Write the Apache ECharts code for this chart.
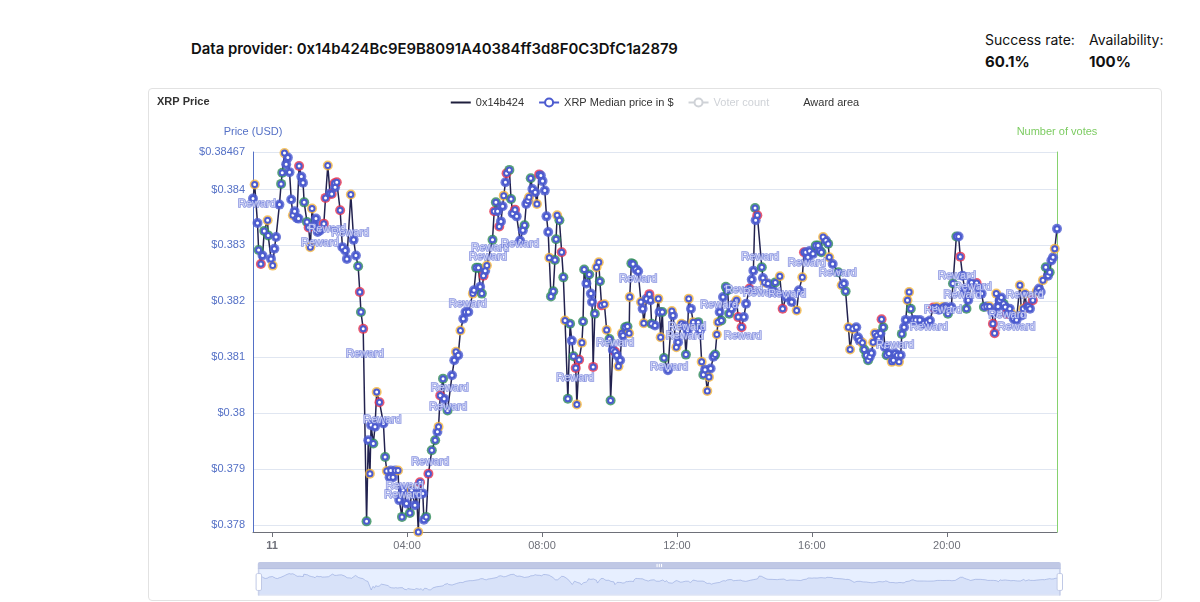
<!DOCTYPE html>
<html><head><meta charset="utf-8">
<script src="https://cdn.jsdelivr.net/npm/echarts@6/dist/echarts.min.js"></script>
<style>
html,body{margin:0;padding:0;background:#fff;width:1200px;height:602px;overflow:hidden;font-family:Inter,'Noto Sans',sans-serif;color:#111;}
.h{position:absolute;white-space:nowrap;font-size:14px;line-height:18px;}
.b{font-weight:600;}
#card{position:absolute;left:148px;top:88px;width:1014px;height:513px;box-sizing:border-box;border:1px solid #e2e2e2;border-radius:4px;}
#chart{position:absolute;left:0;top:0;width:1012px;height:511px;}
</style></head><body>
<div class="h b" style="left:191px;top:40px;font-size:14.9px;">Data provider: 0x14b424Bc9E9B8091A40384ff3d8F0C3DfC1a2879</div>
<div class="h" style="left:985px;top:31px;">Success rate:</div>
<div class="h b" style="left:985px;top:53px;font-size:15px;font-weight:700;">60.1%</div>
<div class="h" style="left:1089px;top:31px;">Availability:</div>
<div class="h b" style="left:1089px;top:53px;font-size:15px;font-weight:700;">100%</div>
<div id="card"><div id="chart"></div></div>
<script>
const times = [
"23:26","23:29","23:34","23:36","23:40","23:43","23:46","23:52","23:53","23:58",
"00:01","00:04","00:07","00:13","00:16","00:18","00:22","00:25","00:28","00:31",
"00:34","00:37","00:40","00:44","00:47","00:48","00:52","00:55","00:57","01:02",
"01:05","01:08","01:11","01:15","01:18","01:21","01:25","01:32","01:35","01:39",
"01:43","01:46","01:51","01:52","01:55","02:01","02:05","02:10","02:13","02:20",
"02:25","02:29","02:33","02:36","02:38","02:42","02:48","02:51","02:54","02:56",
"03:00","03:03","03:06","03:11","03:18","03:21","03:24","03:29","03:31","03:35",
"03:39","03:44","03:46","03:51","03:53","03:59","04:05","04:08","04:14","04:17",
"04:20","04:23","04:28","04:30","04:34","04:38","04:44","04:50","04:54","04:56",
"04:59","05:04","05:06","05:12","05:20","05:24","05:27","05:31","05:35","05:40",
"05:44","05:49","05:57","05:59","06:03","06:07","06:10","06:13","06:16","06:19",
"06:22","06:32","06:35","06:38","06:41","06:44","06:47","06:50","06:52","06:55",
"06:57","07:02","07:05","07:08","07:12","07:15","07:21","07:26","07:29","07:32",
"07:35","07:37","07:40","07:43","07:48","07:51","07:55","07:58","08:01","08:05",
"08:08","08:11","08:13","08:16","08:20","08:23","08:25","08:27","08:31","08:35",
"08:38","08:41","08:46","08:50","08:53","08:56","09:00","09:02","09:06","09:11",
"09:13","09:15","09:19","09:24","09:27","09:29","09:31","09:34","09:37","09:41",
"09:43","09:46","09:51","09:55","10:00","10:02","10:06","10:10","10:13","10:16",
"10:19","10:22","10:24","10:28","10:32","10:35","10:36","10:39","10:42","10:47",
"10:51","10:56","10:59","11:01","11:06","11:11","11:13","11:15","11:21","11:27",
"11:29","11:31","11:34","11:37","11:44","11:51","11:53","11:59","12:02","12:08",
"12:13","12:16","12:19","12:21","12:25","12:29","12:38","12:41","12:44","12:47",
"12:50","12:54","12:57","13:00","13:05","13:08","13:11","13:13","13:16","13:19",
"13:22","13:27","13:30","13:33","13:37","13:42","13:46","13:49","13:55","13:59",
"14:03","14:09","14:13","14:16","14:19","14:20","14:23","14:31","14:33","14:36",
"14:42","14:51","14:55","15:03","15:08","15:14","15:24","15:33","15:37","15:43",
"15:46","15:49","15:53","15:56","16:02","16:07","16:11","16:14","16:17","16:20",
"16:25","16:29","16:31","16:37","16:47","16:53","16:57","17:00","17:05","17:08",
"17:13","17:19","17:22","17:25","17:30","17:33","17:37","17:40","17:43","17:46",
"17:49","17:52","17:56","17:59","18:02","18:04","18:07","18:10","18:13","18:17",
"18:22","18:25","18:28","18:32","18:35","18:38","18:40","18:44","18:47","18:50",
"18:53","18:56","19:00","19:05","19:12","19:19","19:25","19:30","19:36","19:42",
"19:46","19:53","19:58","20:02","20:08","20:11","20:17","20:21","20:24","20:28",
"20:32","20:35","20:38","20:44","20:53","20:57","21:02","21:06","21:11","21:16",
"21:21","21:22","21:25","21:28","21:31","21:34","21:37","21:41","21:44","21:47",
"21:52","21:55","21:59","22:04","22:10","22:13","22:16","22:19","22:22","22:25",
"22:28","22:33","22:40","22:44","22:47","22:51","22:56","23:00","23:03","23:06",
"23:09","23:12","23:16"
];
const prices = [
0.38384,0.38409,0.38340,0.38292,0.38267,0.38282,0.38326,0.38345,0.38318,0.38276,
0.38264,0.38294,0.38315,0.38373,0.38410,0.38430,0.38465,0.38445,0.38457,0.38431,
0.38382,0.38354,0.38361,0.38349,0.38348,0.38442,0.38423,0.38412,0.38377,0.38342,
0.38332,0.38297,0.38366,0.38336,0.38348,0.38324,0.38327,0.38339,0.38385,0.38443,
0.38393,0.38392,0.38411,0.38404,0.38413,0.38363,0.38297,0.38291,0.38276,0.38391,
0.38310,0.38282,0.38263,0.38217,0.38181,0.38151,0.37807,0.37952,0.37892,0.37979,
0.37946,0.37976,0.38038,0.38020,0.37982,0.37922,0.37897,0.37886,0.37898,0.37886,
0.37898,0.37898,0.37845,0.37815,0.37863,0.37839,0.37822,0.37863,0.37836,0.37857,
0.37788,0.37877,0.37857,0.37810,0.37815,0.37892,0.37934,0.37952,0.37967,0.37976,
0.38032,0.38062,0.38026,0.38005,0.38068,0.38095,0.38110,0.38104,0.38148,0.38169,
0.38181,0.38181,0.38214,0.38220,0.38260,0.38260,0.38226,0.38214,0.38246,0.38255,
0.38264,0.38310,0.38361,0.38377,0.38361,0.38334,0.38343,0.38370,0.38389,0.38413,
0.38429,0.38435,0.38383,0.38357,0.38364,0.38352,0.38309,0.38327,0.38336,0.38374,
0.38380,0.38386,0.38420,0.38401,0.38395,0.38374,0.38427,0.38425,0.38415,0.38398,
0.38352,0.38324,0.38278,0.38209,0.38218,0.38274,0.38311,0.38354,0.38345,0.38288,
0.38243,0.38166,0.38026,0.38160,0.38130,0.38102,0.38081,0.38016,0.38096,0.38126,
0.38164,0.38257,0.38232,0.38248,0.38214,0.38199,0.38083,0.38178,0.38261,0.38270,
0.38236,0.38193,0.38195,0.38149,0.38133,0.38023,0.38113,0.38110,0.38104,0.38084,
0.38095,0.38143,0.38139,0.38154,0.38155,0.38143,0.38208,0.38268,0.38267,0.38258,
0.38254,0.38199,0.38187,0.38161,0.38205,0.38213,0.38202,0.38160,0.38157,0.38205,
0.38181,0.38136,0.38181,0.38099,0.38077,0.38183,0.38175,0.38118,0.38127,0.38160,
0.38157,0.38105,0.38148,0.38205,0.38187,0.38163,0.38163,0.38148,0.38092,0.38069,
0.38078,0.38040,0.38065,0.38080,0.38101,0.38105,0.38141,0.38163,0.38181,0.38166,
0.38208,0.38226,0.38220,0.38178,0.38187,0.38196,0.38202,0.38172,0.38154,0.38172,
0.38196,0.38223,0.38239,0.38255,0.38367,0.38345,0.38354,0.38261,0.38242,0.38234,
0.38232,0.38220,0.38234,0.38245,0.38187,0.38208,0.38199,0.38184,0.38220,0.38243,
0.38288,0.38288,0.38279,0.38290,0.38285,0.38300,0.38300,0.38291,0.38288,0.38315,
0.38309,0.38303,0.38279,0.38267,0.38252,0.38229,0.38232,0.38218,0.38154,0.38114,
0.38151,0.38154,0.38136,0.38130,0.38126,0.38114,0.38104,0.38095,0.38101,0.38108,
0.38127,0.38143,0.38139,0.38133,0.38143,0.38168,0.38154,0.38118,0.38104,0.38107,
0.38092,0.38095,0.38107,0.38104,0.38092,0.38104,0.38142,0.38154,0.38167,0.38202,
0.38217,0.38187,0.38167,0.38167,0.38167,0.38161,0.38163,0.38166,0.38189,0.38190,
0.38185,0.38190,0.38190,0.38178,0.38190,0.38232,0.38316,0.38316,0.38280,0.38246,
0.38220,0.38187,0.38202,0.38234,0.38233,0.38224,0.38214,0.38190,0.38191,0.38191,
0.38181,0.38160,0.38143,0.38214,0.38191,0.38202,0.38207,0.38196,0.38190,0.38178,
0.38187,0.38178,0.38169,0.38167,0.38229,0.38175,0.38187,0.38214,0.38190,0.38191,
0.38187,0.38202,0.38218,0.38223,0.38217,0.38238,0.38261,0.38246,0.38252,0.38273,
0.38279,0.38294,0.38330
];
// o = outer band, g = inner band, r = missed, b = neutral
const status = [
"bobgrbgogb","obbbggobbb","bobbbrbbgg","roobbbbrro","brrbrrbbbo",
"bbgrgrgbob","gborbgobbb","bobgbbgobb","orbbgrggbo","rgbgbbobob",
"bbobggbgrb","ogrgbrbbob","rggbrbbbgb","bogbborbbb","bboggggogr",
"goggbgroro","ggbgbbrgoo","grooggbrbo","bobggooggb","bobobrbgbo",
"boggbobobo","bgbobogbog","boobbgoobg","bgggbborrb","brbbgbrgbo",
"bbgorbbobo","rbbbbggbgo","bgobgobgoo","obbbogggbb","oobbbrgbgb",
"obbbobgbbo","ogbbbbbbro","bobgbggbrb","bgbbrbbgbo","brrobbbgbr",
"bobboboorb","brobbogbgb","bob"
].join("").split("");
const rewardTimes = ["23:33","01:25","01:38","02:19","02:45","03:16","03:53","03:56","04:41","05:13",
"05:16","05:48","06:24","06:28","07:21","08:59","10:10","10:51","11:46","12:14",
"12:18","13:15","13:57","13:59","14:28","14:31","15:16","15:51","16:46","18:28",
"19:28","19:53","20:18","20:28","20:46","21:48","22:04","22:19"];
const rewardPrices = [0.38375,0.38305,0.38330,0.38323,0.38107,0.37989,0.37855,0.37871,0.37913,0.38011,
0.38046,0.38195,0.38279,0.38296,0.38302,0.38064,0.38125,0.38241,0.38082,0.38138,
0.38154,0.38193,0.38138,0.38221,0.38279,0.38216,0.38214,0.38268,0.38250,0.38123,
0.38154,0.38184,0.38245,0.38211,0.38225,0.38175,0.38154,0.38211];
const voterCount = [];

function toStamps(list){
  let day = 10, prevH = -1;
  return list.map(t => {
    const [h, m] = t.split(':').map(Number);
    if (h < prevH) day++;
    prevH = h;
    return new Date(2023, 6, day, h, m).getTime();
  });
}
const stamps = toStamps(times);
const rStamps = toStamps(rewardTimes);
const statusColor = {o:'#f2b43c', g:'#2e8b57', r:'#e5304c', b:'#4c5bcf'};
const lineData = stamps.map((s, i) => [s, prices[i]]);
const markerData = lineData.map((d, i) => ({value: d, itemStyle: {color: statusColor[status[i]] || statusColor.b}}));
const rewardData = rStamps.map((s, i) => [s, rewardPrices[i]]);

const chart = echarts.init(document.getElementById('chart'));
const FONT = "'Liberation Sans', Arial, sans-serif";
chart.setOption({
  animation: false,
  textStyle: {fontFamily: FONT},
  title: {text: 'XRP Price', left: 3, top: 2, textStyle: {fontSize: 11, fontWeight: 'bold', color: '#333', fontFamily: FONT}},
  legend: {
    top: 3, left: 'center', itemWidth: 20, itemHeight: 10, itemGap: 14,
    textStyle: {fontSize: 11, color: '#333'},
    selected: {'Voter count': false},
    data: [
      {name: '0x14b424', icon: 'path://M0,0H20V2H0Z', itemStyle: {color: '#1e1e3c'}},
      {name: 'XRP Median price in $', lineStyle: {opacity: 1, width: 2}},
      {name: 'Voter count'},
      {name: 'Award area', itemStyle: {color: 'rgba(0,0,0,0)', opacity: 0}}
    ]
  },
  grid: {left: 104, right: 104, top: 63, bottom: 68},
  xAxis: {
    type: 'time', min: 'dataMin', max: 'dataMax',
    minInterval: 4 * 3600 * 1000, maxInterval: 4 * 3600 * 1000,
    axisLine: {lineStyle: {color: '#6e7079'}},
    axisLabel: {fontSize: 11, color: '#6e7079', showMinLabel: false, showMaxLabel: false},
    splitLine: {show: false}
  },
  yAxis: [
    {
      type: 'value', name: 'Price (USD)', min: 0.37788, max: 0.38467, position: 'left',
      nameTextStyle: {color: '#5470c6', fontSize: 11},
      axisLine: {show: true, lineStyle: {color: '#5470c6'}},
      axisTick: {show: false},
      axisLabel: {color: '#5470c6', fontSize: 11, formatter: v => '$' + v},
      splitLine: {lineStyle: {color: '#e0e6f1'}}
    },
    {
      type: 'value', name: 'Number of votes', position: 'right',
      nameTextStyle: {color: '#7dcc62', fontSize: 11},
      axisLine: {show: true, lineStyle: {color: '#86d26e'}},
      axisTick: {show: false}, axisLabel: {show: false}, splitLine: {show: false}
    }
  ],
  dataZoom: [
    {type: 'inside', xAxisIndex: 0, start: 0, end: 100},
    {type: 'slider', xAxisIndex: 0, start: 0, end: 100, left: 106, right: 103, bottom: 11, height: 27, showDetail: false}
  ],
  series: [
    {name: '0x14b424', type: 'line', data: lineData, symbol: 'none', z: 2,
     lineStyle: {color: '#22224f', width: 1.5}, itemStyle: {color: '#22224f'}},
    {name: 'band', type: 'scatter', data: markerData, symbol: 'circle', symbolSize: 10, z: 3},
    {name: 'XRP Median price in $', type: 'line', data: lineData, symbol: 'emptyCircle', symbolSize: 5,
     showAllSymbol: true, z: 4,
     itemStyle: {color: '#4c5bcf', borderWidth: 1.5},
     lineStyle: {color: '#4c5bcf', width: 2, opacity: 0}},
    {name: 'Voter count', type: 'line', yAxisIndex: 1, data: voterCount, itemStyle: {color: '#aaa'}},
    {name: 'Award area', type: 'scatter', data: rewardData, symbolSize: 2, z: 5,
     itemStyle: {color: 'rgba(0,0,0,0)'},
     label: {show: true, position: 'inside', formatter: 'Reward', fontSize: 11,
             color: '#e2e5fb', textBorderColor: '#6b79d8', textBorderWidth: 1.5}}
  ]
});
</script>
</body></html>
